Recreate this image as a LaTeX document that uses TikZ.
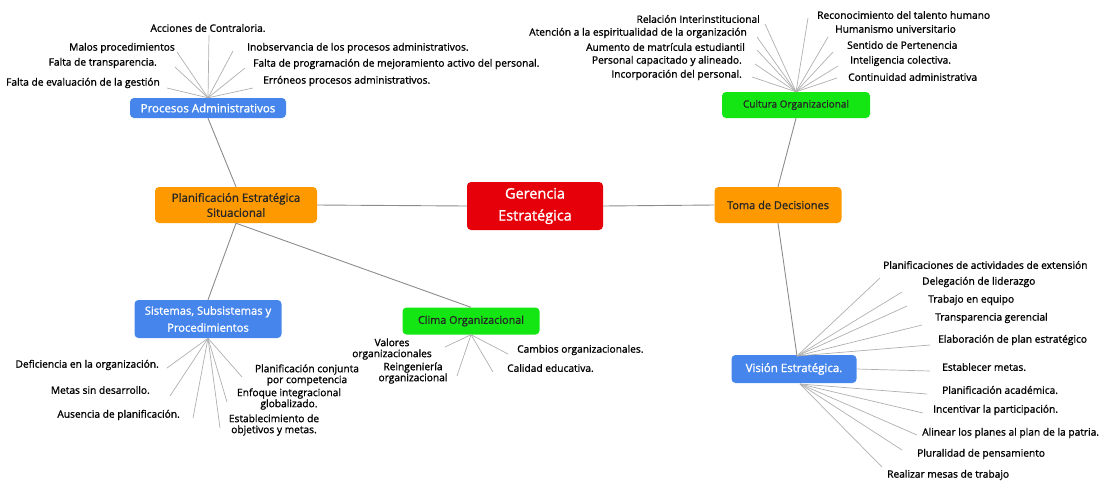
\documentclass[tikz,border=0pt]{standalone}
\usepackage{fontspec}
\setmainfont{Open Sans}[FakeBold=1.2]
\definecolor{cblue}{RGB}{70,134,236}
\definecolor{corange}{RGB}{255,153,0}
\definecolor{cred}{RGB}{230,0,10}
\definecolor{cgreen}{RGB}{20,230,20}
\definecolor{cline}{RGB}{140,140,140}
\definecolor{cleaf}{RGB}{175,175,175}
\begin{document}
\begin{tikzpicture}[x=1pt,y=-1pt,
  box/.style={rounded corners=4pt, inner sep=1pt, align=center, font=\fontsize{11.5}{15}\selectfont},
  bluebox/.style={box, fill=cblue, text=white},
  orangebox/.style={box, fill=corange, text=black!85},
  greenbox/.style={box, fill=cgreen, text=black!85},
  redbox/.style={box, fill=cred, text=white, font=\fontsize{14.5}{22}\selectfont},
  leaf/.style={inner sep=0pt, align=center, font=\fontsize{10.2}{11}\selectfont, text=black},
  main/.style={draw=cline, line width=0.9pt},
  twig/.style={draw=cleaf, line width=0.7pt}]
\useasboundingbox (0,0) rectangle (1107,483);

% ---------- main boxes ----------
\node[redbox, minimum width=136pt, minimum height=48pt] (ger) at (535,206) {Gerencia\\Estratégica};
\node[orangebox, minimum width=162pt, minimum height=36pt] (plan) at (236,205) {Planificación Estratégica\\Situacional};
\node[orangebox, minimum width=127pt, minimum height=36pt, font=\fontsize{11}{14}\selectfont] (toma) at (778,205) {Toma de Decisiones};
\node[bluebox, minimum width=156pt, minimum height=20pt] (proc) at (208,108) {Procesos Administrativos};
\node[greenbox, minimum width=148pt, minimum height=26pt, font=\fontsize{10}{13}\selectfont] (cult) at (796,105) {Cultura Organizacional};
\node[bluebox, minimum width=147pt, minimum height=38pt, font=\fontsize{11.2}{17}\selectfont] (sis) at (208,319) {Sistemas, Subsistemas y\\Procedimientos};
\node[greenbox, minimum width=137pt, minimum height=27pt, font=\fontsize{10.8}{13}\selectfont] (clima) at (471,321) {Clima Organizacional};
\node[bluebox, minimum width=125pt, minimum height=28pt] (vis) at (794,369) {Visión Estratégica.};

% ---------- main connectors ----------
\coordinate (vis-t) at (797,356);
\coordinate (vis-b) at (800,384);
\draw[main] (ger.west) -- (plan.east);
\draw[main] (ger.east) -- (toma.west);
\draw[main] (plan.north) -- (proc.south);
\draw[main] (plan.south) -- (sis.north);
\draw[main] (plan.south) -- (clima.north);
\draw[main] (toma.north) -- (cult.south);
\draw[main] (toma.south) -- (vis-t);

% ---------- Procesos Administrativos ----------
\node[leaf] (acc) at (208,28) {Acciones de Contraloria.};
\node[leaf, anchor=east] (malos) at (175,48) {Malos procedimientos};
\node[leaf, anchor=east] (ftrans) at (157,63) {Falta de transparencia.};
\node[leaf, anchor=east] (feval) at (160,83) {Falta de evaluación de la gestión};
\node[leaf, anchor=west] (inob) at (247,48) {Inobservancia de los procesos administrativos.};
\node[leaf, anchor=west] (fprog) at (253,64) {Falta de programación de mejoramiento activo del personal.};
\node[leaf, anchor=west] (erron) at (263,81) {Erróneos procesos administrativos.};
\coordinate (acc-e) at (209,35);
\coordinate (malos-e) at (177,52);
\coordinate (ftrans-e) at (175,67);
\coordinate (feval-e) at (167,88);
\coordinate (inob-e) at (233,51);
\coordinate (fprog-e) at (245,68);
\coordinate (erron-e) at (253,88);
\foreach \e in {acc-e,malos-e,ftrans-e,feval-e,inob-e,fprog-e,erron-e}
  \draw[twig] (proc.north) -- (\e);

% ---------- Cultura Organizacional ----------
\node[leaf, anchor=east] (rel) at (760,19) {Relación Interinstitucional};
\node[leaf, anchor=east] (aten) at (747,33) {Atención a la espiritualidad de la organización};
\node[leaf, anchor=east] (aum) at (745,47) {Aumento de matrícula estudiantil};
\node[leaf, anchor=east] (pers) at (742,61) {Personal capacitado y alineado.};
\node[leaf, anchor=east] (inc) at (742,75) {Incorporación del personal.};
\node[leaf, anchor=west] (recon) at (817,15) {Reconocimiento del talento humano};
\node[leaf, anchor=west] (human) at (835,29) {Humanismo universitario};
\node[leaf, anchor=west] (sent) at (847,45) {Sentido de Pertenencia};
\node[leaf, anchor=west] (intel) at (850,61) {Inteligencia colectiva.};
\node[leaf, anchor=west] (cont) at (848,77) {Continuidad administrativa};
\coordinate (rel-e) at (765,24);
\coordinate (aten-e) at (757,37);
\coordinate (aum-e) at (757,50);
\coordinate (pers-e) at (755,64);
\coordinate (inc-e) at (752,77);
\coordinate (recon-e) at (808,18);
\coordinate (human-e) at (828,37);
\coordinate (sent-e) at (833,52);
\coordinate (intel-e) at (838,66);
\coordinate (cont-e) at (837,78);
\foreach \e in {rel-e,aten-e,aum-e,pers-e,inc-e,recon-e,human-e,sent-e,intel-e,cont-e}
  \draw[twig] (cult.north) -- (\e);

% ---------- Sistemas, Subsistemas y Procedimientos ----------
\node[leaf, anchor=east] (def) at (159,365) {Deficiencia en la organización.};
\node[leaf, anchor=east] (metas) at (150,390) {Metas sin desarrollo.};
\node[leaf, anchor=east] (aus) at (180,415) {Ausencia de planificación.};
\node[leaf, font=\fontsize{10.2}{8.5}\selectfont] (pconj) at (307,375) {Planificación conjunta\\por competencia};
\node[leaf] (enf) at (289,399) {Enfoque integracional\\globalizado.};
\node[leaf] (estob) at (274,425) {Establecimiento de\\objetivos y metas.};
\coordinate (def-e) at (167,368);
\coordinate (metas-e) at (170,396);
\coordinate (aus-e) at (193,418);
\coordinate (pconj-e) at (242,377);
\coordinate (enf-e) at (227,402);
\coordinate (estob-e) at (220,428);
\foreach \e in {def-e,metas-e,aus-e,pconj-e,enf-e,estob-e}
  \draw[twig] (sis.south) -- (\e);

% ---------- Clima Organizacional ----------
\node[leaf] (val) at (392,349) {Valores\\organizacionales};
\node[leaf] (rein) at (413,373) {Reingeniería\\organizacional};
\node[leaf, anchor=west] (camb) at (517,350) {Cambios organizacionales.};
\node[leaf, anchor=west] (cal) at (507,368) {Calidad educativa.};
\coordinate (val-e) at (445,347);
\coordinate (rein-e) at (457,376);
\coordinate (camb-e) at (508,354);
\coordinate (cal-e) at (493,372);
\foreach \e in {val-e,rein-e,camb-e,cal-e}
  \draw[twig] (clima.south) -- (\e);

% ---------- Visión Estratégica ----------
\node[leaf, anchor=west] (pact) at (883,265) {Planificaciones de actividades de extensión};
\node[leaf, anchor=west] (deleg) at (922,282) {Delegación de liderazgo};
\node[leaf, anchor=west] (trab) at (928,300) {Trabajo en equipo};
\node[leaf, anchor=west] (transp) at (935,318) {Transparencia gerencial};
\node[leaf, anchor=west] (elab) at (938,340) {Elaboración de plan estratégico};
\node[leaf, anchor=west] (estab) at (942,367) {Establecer metas.};
\node[leaf, anchor=west] (placad) at (942,390) {Planificación académica.};
\node[leaf, anchor=west] (incent) at (933,410) {Incentivar la participación.};
\node[leaf, anchor=west] (alin) at (922,433) {Alinear los planes al plan de la patria.};
\node[leaf, anchor=west] (plural) at (917,454) {Pluralidad de pensamiento};
\node[leaf, anchor=west] (realiz) at (887,475) {Realizar mesas de trabajo};
\coordinate (pact-e) at (880,278);
\coordinate (deleg-e) at (902,292);
\coordinate (trab-e) at (907,306);
\coordinate (transp-e) at (922,325);
\coordinate (elab-e) at (930,345);
\coordinate (estab-e) at (930,371);
\coordinate (placad-e) at (927,394);
\coordinate (incent-e) at (923,413);
\coordinate (alin-e) at (917,435);
\coordinate (plural-e) at (902,450);
\coordinate (realiz-e) at (882,467);
\foreach \e in {pact-e,deleg-e,trab-e,transp-e,elab-e}
  \draw[twig] (vis-t) -- (\e);
\draw[twig] (vis.east) -- (estab-e);
\foreach \e in {placad-e,incent-e,alin-e,plural-e,realiz-e}
  \draw[twig] (vis-b) -- (\e);
\end{tikzpicture}
\end{document}
